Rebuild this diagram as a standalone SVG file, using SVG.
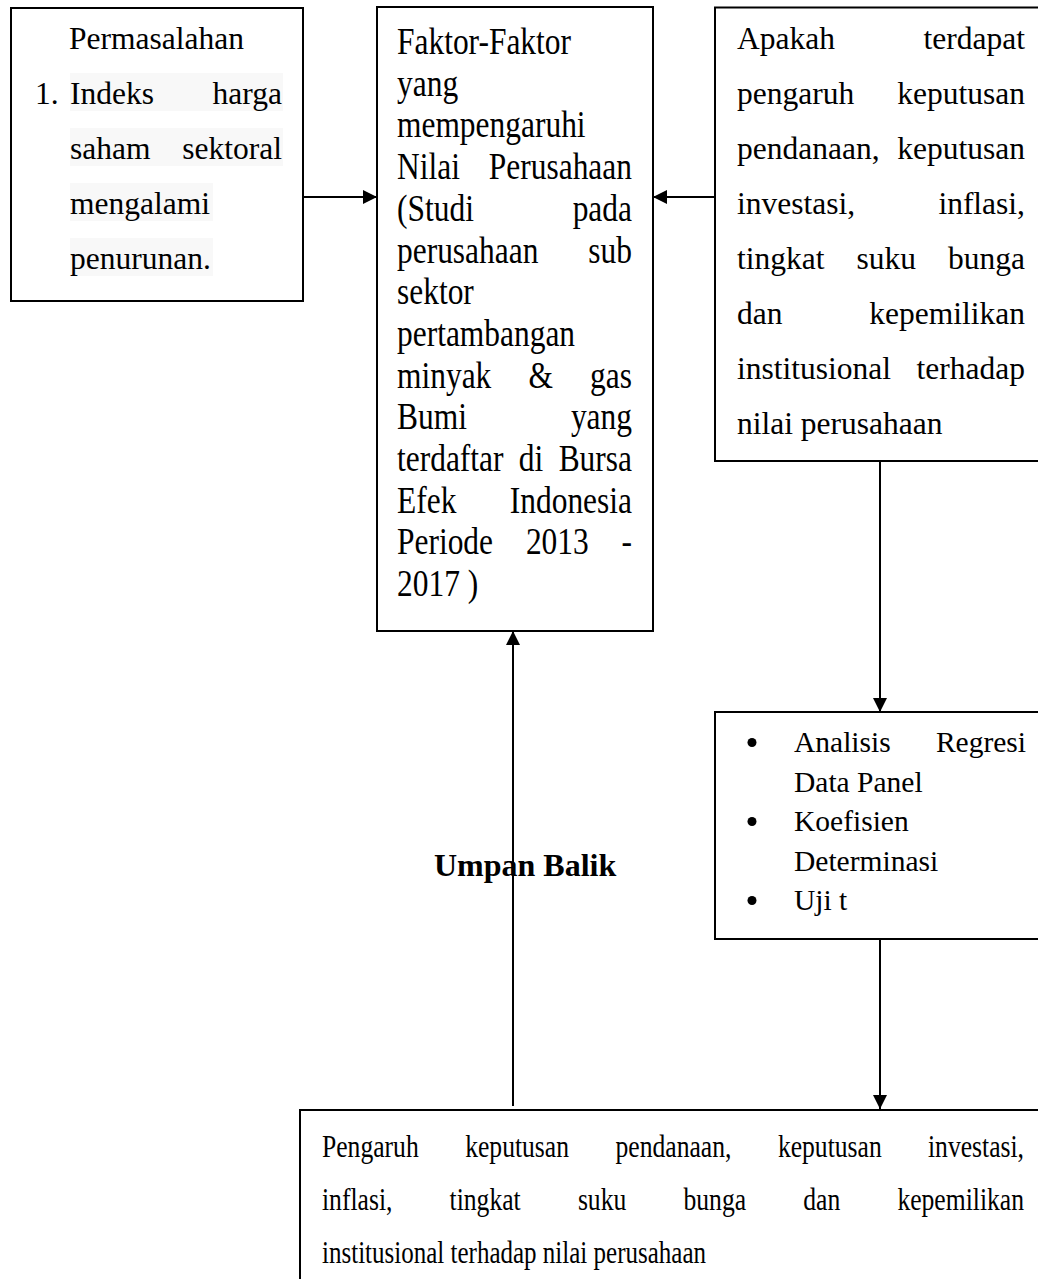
<svg xmlns="http://www.w3.org/2000/svg" width="1038" height="1279" viewBox="0 0 1038 1279">
<style>
.box{fill:#fff;stroke:#000;stroke-width:2}
.hl{fill:#f8f8f8}
.t{font-family:"Liberation Serif","Times New Roman",serif;font-size:31.5px;fill:#000}
.m{font-family:"Liberation Serif","Times New Roman",serif;font-size:37px;fill:#000}
.a{font-family:"Liberation Serif","Times New Roman",serif;font-size:29.5px;fill:#000}
.b{font-family:"Liberation Serif","Times New Roman",serif;font-size:32px;fill:#000}
.e{text-anchor:end}
.bold{font-family:"Liberation Serif","Times New Roman",serif;font-size:32px;font-weight:bold;fill:#000}
.conn line{stroke:#000;stroke-width:2;fill:none}
</style>
<defs>
<marker id="arr" markerUnits="userSpaceOnUse" markerWidth="16" markerHeight="14" refX="14" refY="7" orient="auto">
<path d="M0,0 L14,7 L0,14 Z" fill="#000"/>
</marker>
</defs>
<rect width="1038" height="1279" fill="#fff"/>

<g id="node-permasalahan">
<rect class="box" x="11" y="8" width="292" height="293"/>
<rect class="hl" x="70" y="73" width="213" height="38"/>
<rect class="hl" x="70" y="128" width="213" height="38"/>
<rect class="hl" x="70" y="183" width="143" height="38"/>
<rect class="hl" x="70" y="238" width="143" height="38"/>
<text class="t" x="69" y="49">Permasalahan</text>
<text class="t" x="35" y="104">1.</text>
<text class="t" x="70" y="104">Indeks</text>
<text class="t e" x="282" y="104">harga</text>
<text class="t" x="70" y="159">saham</text>
<text class="t e" x="282" y="159">sektoral</text>
<text class="t" x="70" y="214">mengalami</text>
<text class="t" x="70" y="269">penurunan.</text>
</g>

<g id="node-judul">
<rect class="box" x="377" y="7" width="276" height="624"/>
<text class="m" transform="translate(397,54) scale(0.85,1)">Faktor-Faktor</text>
<text class="m" transform="translate(397,95.7) scale(0.85,1)">yang</text>
<text class="m" transform="translate(397,137.4) scale(0.85,1)">mempengaruhi</text>
<text class="m" transform="translate(397,179.1) scale(0.85,1)">Nilai</text>
<text class="m e" transform="translate(632,179.1) scale(0.85,1)">Perusahaan</text>
<text class="m" transform="translate(397,220.8) scale(0.85,1)">(Studi</text>
<text class="m e" transform="translate(632,220.8) scale(0.85,1)">pada</text>
<text class="m" transform="translate(397,262.5) scale(0.85,1)">perusahaan</text>
<text class="m e" transform="translate(632,262.5) scale(0.85,1)">sub</text>
<text class="m" transform="translate(397,304.2) scale(0.85,1)">sektor</text>
<text class="m" transform="translate(397,345.9) scale(0.85,1)">pertambangan</text>
<text class="m" transform="translate(397,387.6) scale(0.85,1)">minyak</text>
<text class="m" transform="translate(528.5,387.6) scale(0.85,1)">&amp;</text>
<text class="m e" transform="translate(632,387.6) scale(0.85,1)">gas</text>
<text class="m" transform="translate(397,429.3) scale(0.85,1)">Bumi</text>
<text class="m e" transform="translate(632,429.3) scale(0.85,1)">yang</text>
<text class="m" transform="translate(397,471) scale(0.85,1)">terdaftar</text>
<text class="m" transform="translate(518.8,471) scale(0.85,1)">di</text>
<text class="m e" transform="translate(632,471) scale(0.85,1)">Bursa</text>
<text class="m" transform="translate(397,512.7) scale(0.85,1)">Efek</text>
<text class="m e" transform="translate(632,512.7) scale(0.85,1)">Indonesia</text>
<text class="m" transform="translate(397,554.4) scale(0.85,1)">Periode</text>
<text class="m" transform="translate(525.9,554.4) scale(0.85,1)">2013</text>
<text class="m e" transform="translate(632,554.4) scale(0.85,1)">-</text>
<text class="m" transform="translate(397,596.1) scale(0.85,1)">2017 )</text>
</g>

<g id="node-rumusan">
<rect class="box" x="715" y="7.5" width="340" height="453.5"/>
<text class="t" x="737" y="49">Apakah</text>
<text class="t e" x="1025" y="49">terdapat</text>
<text class="t" x="737" y="104">pengaruh</text>
<text class="t e" x="1025" y="104">keputusan</text>
<text class="t" x="737" y="159">pendanaan,</text>
<text class="t e" x="1025" y="159">keputusan</text>
<text class="t" x="737" y="214">investasi,</text>
<text class="t e" x="1025" y="214">inflasi,</text>
<text class="t" x="737" y="269">tingkat</text>
<text class="t" x="856.5" y="269">suku</text>
<text class="t e" x="1025" y="269">bunga</text>
<text class="t" x="737" y="324">dan</text>
<text class="t e" x="1025" y="324">kepemilikan</text>
<text class="t" x="737" y="379">institusional</text>
<text class="t e" x="1025" y="379">terhadap</text>
<text class="t" x="737" y="434">nilai perusahaan</text>
</g>

<g id="node-analisis">
<rect class="box" x="715" y="712" width="340" height="227"/>
<circle cx="752" cy="742.5" r="4.5" fill="#000"/>
<circle cx="752" cy="821.5" r="4.5" fill="#000"/>
<circle cx="752" cy="900.5" r="4.5" fill="#000"/>
<text class="a" x="794" y="752">Analisis</text>
<text class="a e" x="1026" y="752">Regresi</text>
<text class="a" x="794" y="791.5">Data Panel</text>
<text class="a" x="794" y="831">Koefisien</text>
<text class="a" x="794" y="870.5">Determinasi</text>
<text class="a" x="794" y="910">Uji t</text>
</g>

<g id="node-hasil">
<rect class="box" x="300" y="1110" width="760" height="200"/>
<text class="b" x="322" y="1157" textLength="96.7" lengthAdjust="spacingAndGlyphs">Pengaruh</text>
<text class="b" x="465.2" y="1157" textLength="103.8" lengthAdjust="spacingAndGlyphs">keputusan</text>
<text class="b" x="615.5" y="1157" textLength="115.9" lengthAdjust="spacingAndGlyphs">pendanaan,</text>
<text class="b" x="777.9" y="1157" textLength="103.8" lengthAdjust="spacingAndGlyphs">keputusan</text>
<text class="b" x="928" y="1157" textLength="96" lengthAdjust="spacingAndGlyphs">investasi,</text>
<text class="b" x="322" y="1210" textLength="70.4" lengthAdjust="spacingAndGlyphs">inflasi,</text>
<text class="b" x="449.6" y="1210" textLength="71.1" lengthAdjust="spacingAndGlyphs">tingkat</text>
<text class="b" x="577.9" y="1210" textLength="48.4" lengthAdjust="spacingAndGlyphs">suku</text>
<text class="b" x="683.5" y="1210" textLength="62.6" lengthAdjust="spacingAndGlyphs">bunga</text>
<text class="b" x="803.3" y="1210" textLength="37" lengthAdjust="spacingAndGlyphs">dan</text>
<text class="b" x="897.4" y="1210" textLength="126.6" lengthAdjust="spacingAndGlyphs">kepemilikan</text>
<text class="b" x="322" y="1263" textLength="384" lengthAdjust="spacingAndGlyphs">institusional terhadap nilai perusahaan</text>
</g>

<g id="connectors" class="conn">
<line x1="303" y1="197" x2="377" y2="197" marker-end="url(#arr)"/>
<line x1="715" y1="197" x2="653" y2="197" marker-end="url(#arr)"/>
<line x1="880" y1="461" x2="880" y2="712" marker-end="url(#arr)"/>
<line x1="880" y1="939" x2="880" y2="1109" marker-end="url(#arr)"/>
<line x1="513" y1="1106" x2="513" y2="631" marker-end="url(#arr)"/>
</g>

<g id="label-umpan-balik">
<text class="bold" x="434" y="876">Umpan Balik</text>
</g>
</svg>
